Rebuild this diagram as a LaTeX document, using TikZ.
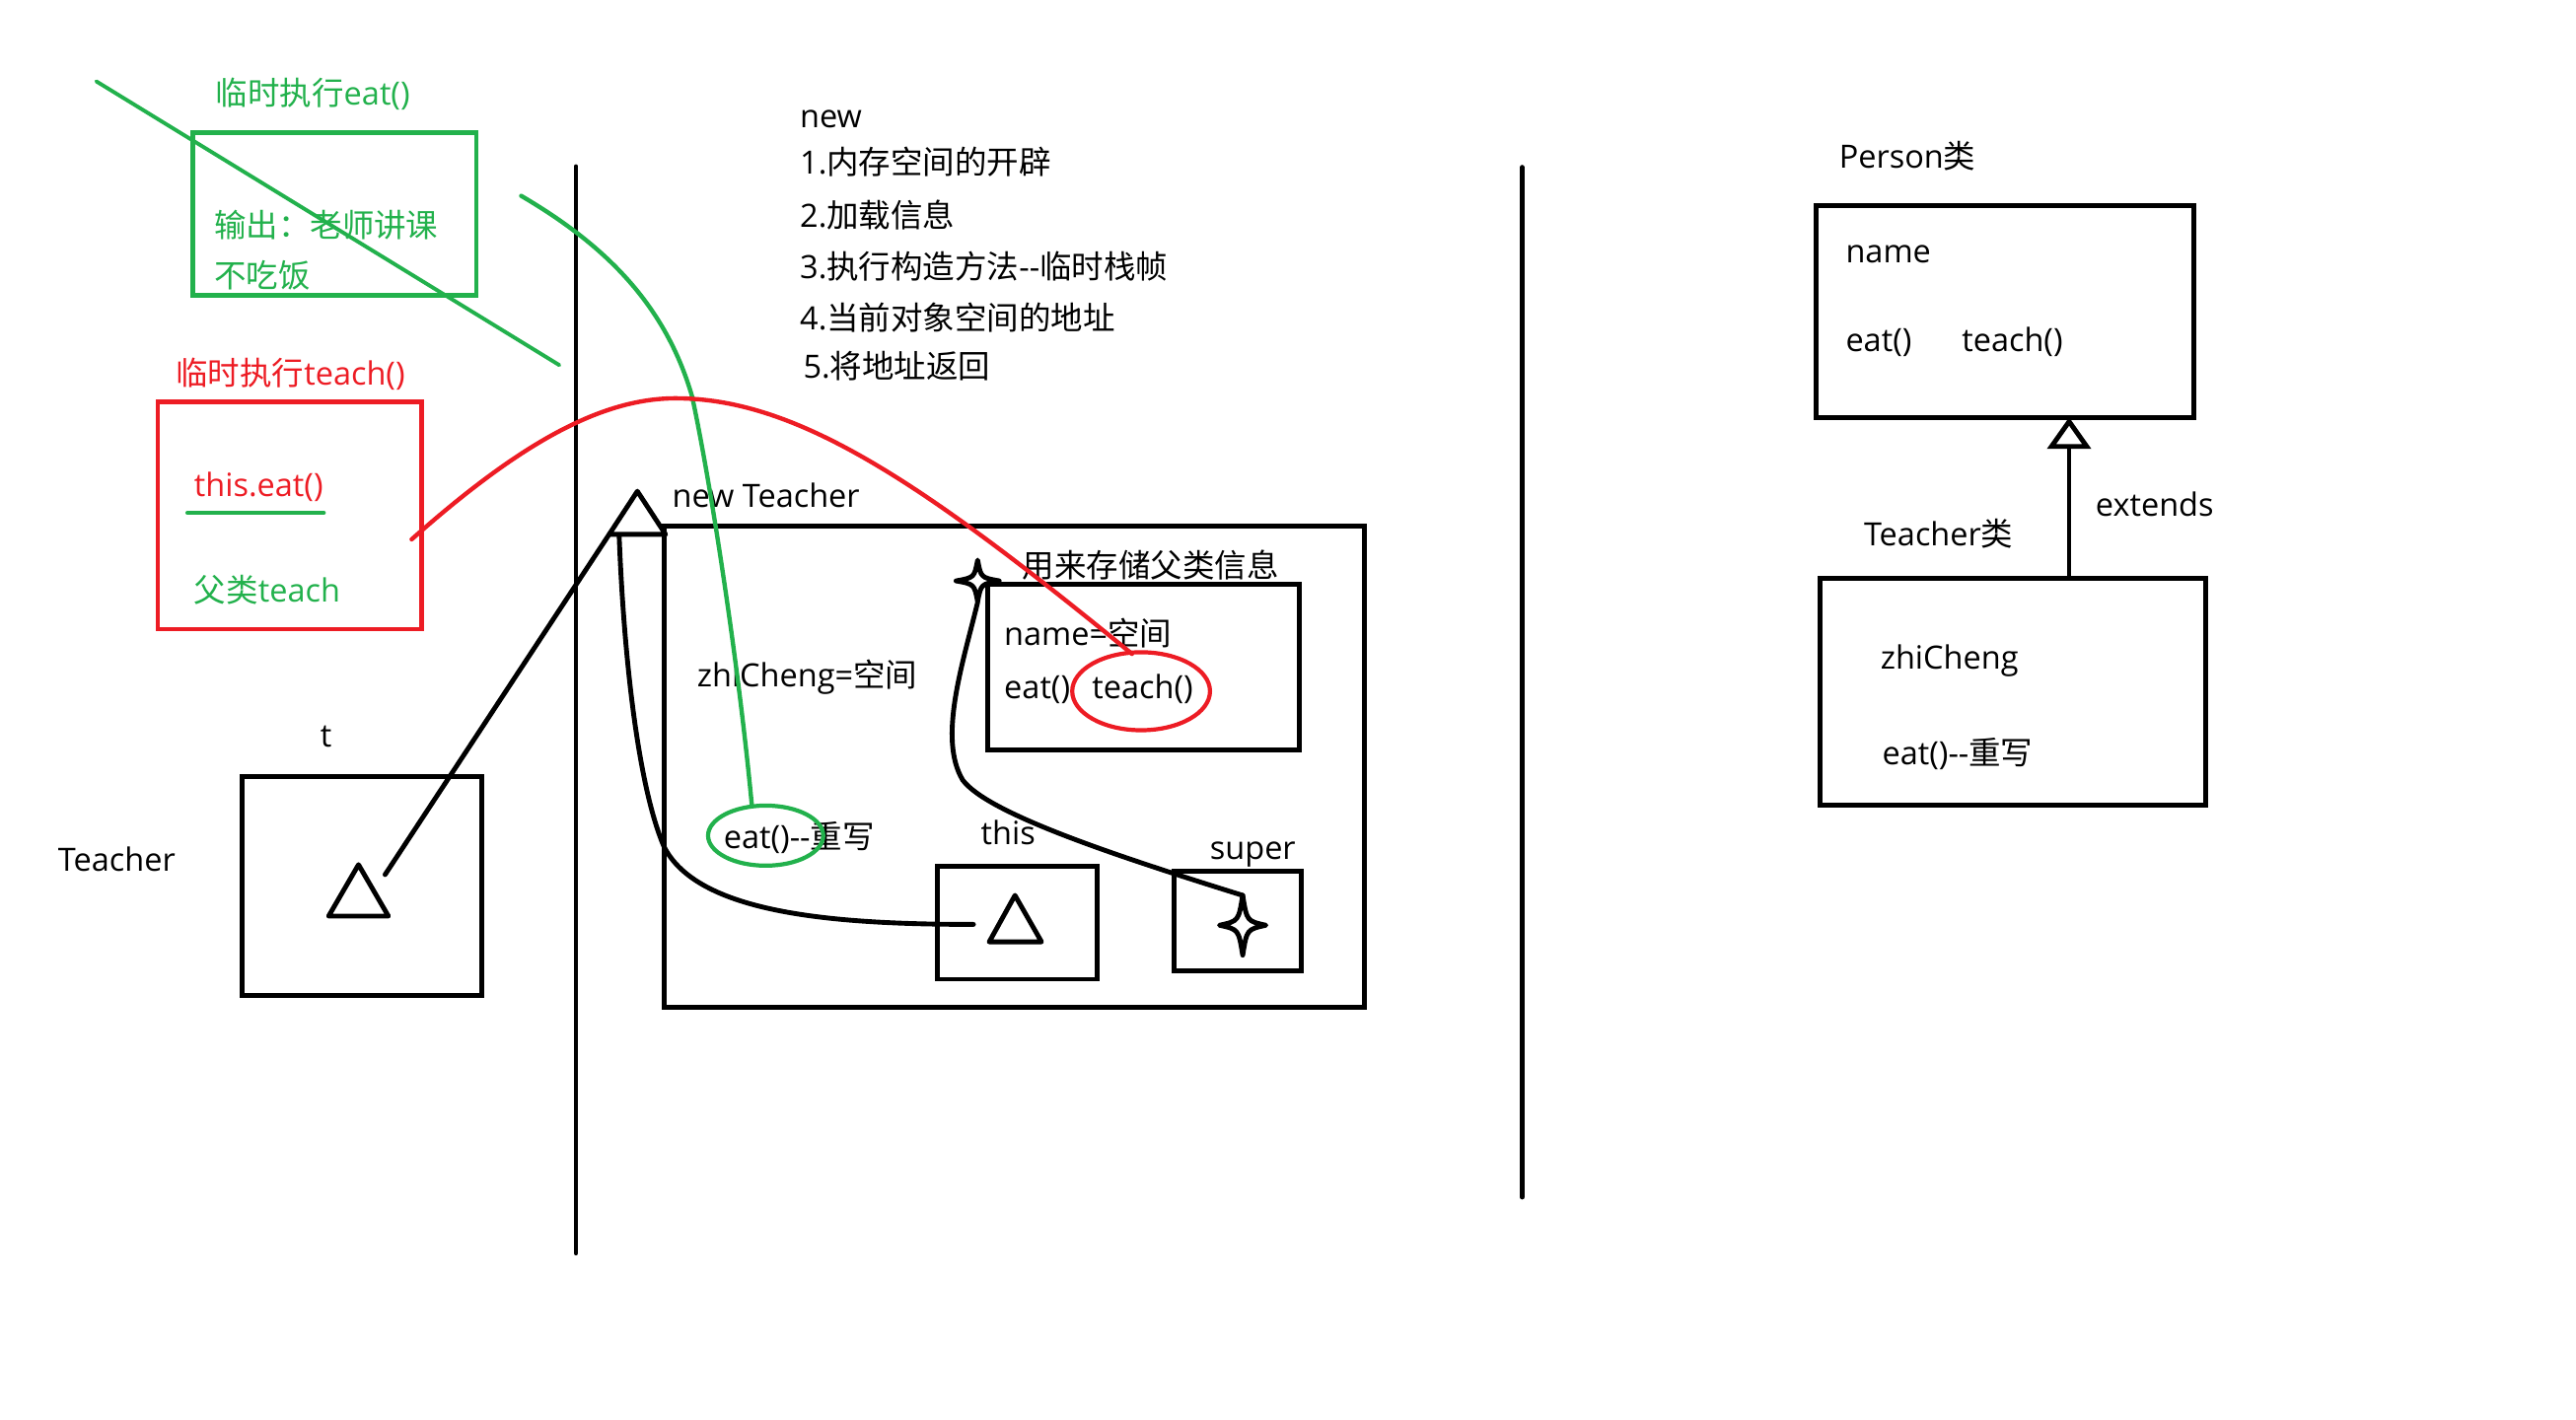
\documentclass[tikz,border=0pt]{standalone}
\usepackage{fontspec}
\setmainfont{Open Sans}[Ligatures=TeXOff]
\newfontfamily\cjk{Noto Sans CJK SC}[Ligatures=TeXOff]
\newcommand\zh[1]{{\cjk #1}}
\definecolor{pgreen}{RGB}{34,177,76}
\definecolor{pred}{RGB}{237,28,36}
\begin{document}
\begin{tikzpicture}[x=1pt,y=-1pt,
  every node/.style={font=\fontsize{19.3}{23}\selectfont, inner sep=0pt, outer sep=0pt},
  lbl/.style={anchor=base west},
  blk/.style={line width=2.9pt, draw=black, line cap=round, line join=round},
  gln/.style={line width=2.6pt, draw=pgreen, line cap=round, line join=round},
  rln/.style={line width=2.6pt, draw=pred, line cap=round, line join=round},
  bbox/.style={draw=black, line width=2.9pt, anchor=north west},
  gbx/.style={draw=pgreen, line width=2.7pt, anchor=north west},
  rbx/.style={draw=pred, line width=2.7pt, anchor=north west}]
\useasboundingbox (0,0) rectangle (1552,855.6);
\fill[white] (0,0) rectangle (1552,855.6);

% ---------- separators ----------
\coordinate (v1a) at (347,100.4); \coordinate (v1b) at (347,755);
\coordinate (v2a) at (917,100.8); \coordinate (v2b) at (917,721.3);
\draw[blk] (v1a) -- (v1b);
\draw[blk] (v2a) -- (v2b);

% ---------- boxes ----------
\node[gbx, minimum width=171pt, minimum height=98pt] (gbox) at (116,80) {};
\node[rbx, minimum width=159pt, minimum height=137pt] (rbox) at (95,242) {};
\node[bbox, minimum width=144pt, minimum height=132pt] (tbox) at (146,468) {};
\node[bbox, minimum width=422pt, minimum height=290pt] (bigbox) at (400,317) {};
\node[bbox, minimum width=188pt, minimum height=100pt] (inbox) at (595,352) {};
\node[bbox, minimum width=96pt, minimum height=68pt] (thisbox) at (565,522) {};
\node[bbox, minimum width=76.4pt, minimum height=60pt] (superbox) at (707.6,525) {};
\node[bbox, minimum width=227.3pt, minimum height=127.5pt] (pbox) at (1094.3,124) {};
\node[bbox, minimum width=232.7pt, minimum height=136.8pt] (tcbox) at (1096.3,348.6) {};

% ---------- green texts ----------
\node[lbl, text=pgreen] (g1) at (130,63) {\zh{临时执行}eat()};
\node[lbl, text=pgreen] (g2) at (129,143) {\zh{输出：老师讲课}};
\node[lbl, text=pgreen] (g3) at (129,173) {\zh{不吃饭}};
\node[lbl, text=pgreen] (g4) at (117,363) {\zh{父类}teach};
% ---------- red texts ----------
\node[lbl, text=pred] (r1) at (106,232) {\zh{临时执行}teach()};
\node[lbl, text=pred] (r2) at (117,299) {this.eat()};

% ---------- black texts ----------
\node[lbl] (tTeacher) at (35,525) {Teacher};
\node[lbl] (tt) at (193,450) {t};
\node[lbl] (tnew) at (405,306) {new Teacher};
\node[lbl] (tzc) at (420,414) {zhiCheng=\zh{空间}};
\node[lbl] (tparent) at (616,347.6) {\zh{用来存储父类信息}};
\node[lbl] (tname) at (605,389) {name=\zh{空间}};
\node[lbl] (teat) at (605,421) {eat()};
\node[lbl] (tteach) at (658,421) {teach()};
\node[lbl] (teat2) at (436,511) {eat()--\zh{重写}};
\node[lbl] (tthis) at (591,509) {this};
\node[lbl] (tsuper) at (729,518) {super};

\node[lbl] (s0) at (482,77) {new};
\node[lbl] (s1) at (482,105) {1.\zh{内存空间的开辟}};
\node[lbl] (s2) at (482,137) {2.\zh{加载信息}};
\node[lbl] (s3) at (482,168) {3.\zh{执行构造方法}--\zh{临时栈帧}};
\node[lbl] (s4) at (482,199) {4.\zh{当前对象空间的地址}};
\node[lbl] (s5) at (484,228) {5.\zh{将地址返回}};

\node[lbl] (tperson) at (1108,101.5) {Person\zh{类}};
\node[lbl] (pname) at (1112,158.6) {name};
\node[lbl] (peat) at (1112,212) {eat()};
\node[lbl] (pteach) at (1182,212) {teach()};
\node[lbl] (textends) at (1262.6,311) {extends};
\node[lbl] (tteacher) at (1123,329) {Teacher\zh{类}};
\node[lbl] (czc) at (1133,403) {zhiCheng};
\node[lbl] (ceat) at (1134,461) {eat()--\zh{重写}};

% ---------- extends arrow ----------
\coordinate (extA) at (1246.6,348.6);
\coordinate (extBase) at (1246.6,269);
\coordinate (extTip) at (1246.6,254);
\coordinate (extL) at (1236,269); \coordinate (extR) at (1257.2,269);
\draw[blk, line cap=butt] (extA) -- (extBase);
\draw[blk, fill=white, line join=miter] (extTip) -- (extR) -- (extL) -- cycle;

% ---------- triangles ----------
\coordinate (ttA) at (216,521); \coordinate (ttL) at (198,552); \coordinate (ttR) at (234,552);
\draw[blk] (ttA) -- (ttR) -- (ttL) -- cycle;
\coordinate (thA) at (611.5,539.5); \coordinate (thL) at (596,567.5); \coordinate (thR) at (627.5,567.5);
\draw[blk] (thA) -- (thR) -- (thL) -- cycle;

% line from t to the object
\coordinate (tStart) at (232,527);
\coordinate (bigL) at (367,322); \coordinate (bigR) at (401,322); \coordinate (bigA) at (384,296);
\draw[blk] (tStart) -- (bigL);

% curve from this back to the object
\coordinate (thisStart) at (586.5,557);
\coordinate (thisMid) at (400,510);
\coordinate (bigBase) at (373,322);
\draw[blk] (thisStart) .. controls (500,557) and (420,550) .. (thisMid)
           .. controls (385,475) and (376,400) .. (bigBase);
\draw[blk, fill=white] (bigA) -- (bigR) -- (bigL) -- cycle;

% stars
\draw[blk, shift={(589,350)}] (0,-12.5) .. controls (2,-2) .. (13,0) .. controls (2,2) .. (0,12.5)
   .. controls (-2,2) .. (-13,0) .. controls (-2,-2) .. cycle;
\coordinate (star1b) at (589,363);
\draw[blk, shift={(748.7,557.5)}] (0,-18) .. controls (2.5,-2.5) .. (14,0) .. controls (2.5,2.5) .. (0,18)
   .. controls (-2.5,2.5) .. (-14,0) .. controls (-2.5,-2.5) .. cycle;
\coordinate (star2t) at (748.7,539.5);
\coordinate (supMid) at (580,470);
\draw[blk] (star1b) .. controls (580,400) and (565,445) .. (supMid)
           .. controls (595,490) and (670,515) .. (star2t);

% ---------- coloured marks ----------
\draw[pred, line width=2.5pt] (687.5,416.5) ellipse [x radius=41.5, y radius=23.5];
\draw[pgreen, line width=2.5pt] (461.3,503.5) ellipse [x radius=34.7, y radius=18.1];

\coordinate (gd1) at (58,49); \coordinate (gd2) at (337,220);
\draw[gln, line width=2.3pt] (gd1) -- (gd2);
\coordinate (ul1) at (113,309); \coordinate (ul2) at (195,309);
\draw[gln] (ul1) -- (ul2);

\coordinate (gcS) at (314,118); \coordinate (gcM) at (417,239); \coordinate (gcE) at (453,485.5);
\draw[gln] (gcS) .. controls (360,145) and (400,180) .. (gcM)
           .. controls (428,290) and (445,400) .. (gcE);

\coordinate (rcS) at (248,325); \coordinate (rcM) at (407,240); \coordinate (rcE) at (682,394);
\draw[rln] (rcS) .. controls (310,270) and (360,240) .. (rcM)
           .. controls (480,240) and (555,290) .. (rcE);
\end{tikzpicture}
\end{document}
